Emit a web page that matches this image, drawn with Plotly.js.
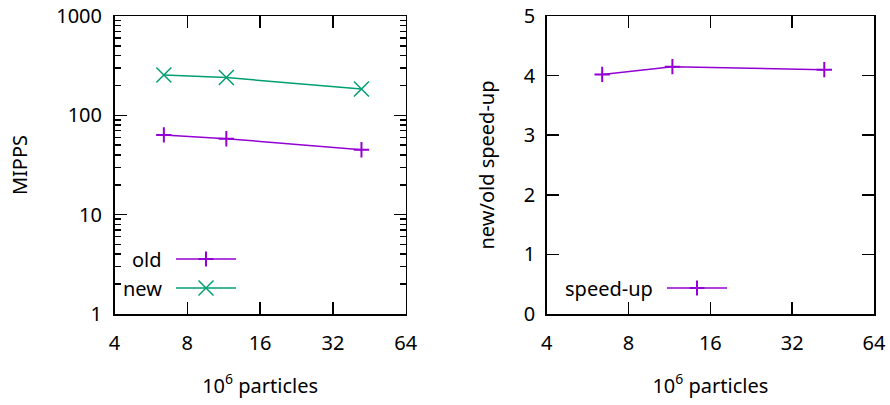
<!DOCTYPE html>
<html>
<head>
<meta charset="utf-8">
<script src="https://cdn.plot.ly/plotly-3.0.1.min.js"></script>
<style>html,body{margin:0;padding:0;background:#fff;}#chart{width:890px;height:405px;}</style>
</head>
<body>
<div id="chart"></div>
<script>
// Data
const particles = [6.4, 11.6, 42];           // 10^6 particles
const mippsOld = [63.5, 58.2, 45];           // MIPPS, old
const mippsNew = [255, 240, 184];            // MIPPS, new
const speedUp = [4.02, 4.15, 4.10];          // new/old speed-up
const xTicks = [4, 8, 16, 32, 64];
const yTicksLog = [1, 10, 100, 1000];
const yTicksLin = [0, 1, 2, 3, 4, 5];

const PURPLE = '#9400D3';
const GREEN = '#009E73';
const FONT = {family: 'Noto Sans, Open Sans, DejaVu Sans, sans-serif', size: 20, color: '#000'};

const minorLog = [];
for (let d = 1; d < 1000; d *= 10) for (let k = 2; k <= 9; k++) minorLog.push(k * d);

const traces = [
  {x: particles, y: mippsOld, xaxis: 'x', yaxis: 'y', mode: 'lines+markers', name: 'old',
   line: {color: PURPLE, width: 1.5}, marker: {symbol: 'cross-thin', size: 11, line: {color: PURPLE, width: 2}}},
  {x: particles, y: mippsNew, xaxis: 'x', yaxis: 'y', mode: 'lines+markers', name: 'new',
   line: {color: GREEN, width: 1.5}, marker: {symbol: 'x-thin', size: 15, line: {color: GREEN, width: 1.5}}},
  {x: particles, y: speedUp, xaxis: 'x2', yaxis: 'y2', mode: 'lines+markers', name: 'speed-up',
   line: {color: PURPLE, width: 1.5}, marker: {symbol: 'cross-thin', size: 11, line: {color: PURPLE, width: 2}}}
];

const W = 890, H = 405;
const px = v => v / W, py = v => 1 - v / H;

const xCommon = {
  type: 'log', range: [Math.log10(4), Math.log10(64)], tickvals: xTicks, ticktext: xTicks.map(String),
  ticks: 'inside', ticklen: 12, tickwidth: 1.5, tickcolor: '#000', showline: true, linecolor: '#000', linewidth: 1.5,
  mirror: 'ticks', showgrid: false, zeroline: false, tickfont: FONT, ticklabelstandoff: 10,
  title: {text: '10<sup>6</sup> particles', font: FONT, standoff: 24}
};

const layout = {
  width: W, height: H, margin: {l: 0, r: 0, t: 0, b: 0},
  paper_bgcolor: '#fff', plot_bgcolor: '#fff', showlegend: false, font: FONT,
  xaxis: Object.assign({}, xCommon, {domain: [px(114.5), px(405.7)], anchor: 'y'}),
  xaxis2: Object.assign({}, xCommon, {domain: [px(546.7), px(874)], anchor: 'y2'}),
  yaxis: {
    type: 'log', range: [0, 3], domain: [py(314), py(16)], anchor: 'x',
    tickvals: yTicksLog, ticktext: yTicksLog.map(String),
    ticks: 'inside', ticklen: 12, tickwidth: 1.5, tickcolor: '#000', showline: true, linecolor: '#000', linewidth: 1.5,
    mirror: 'ticks', showgrid: false, zeroline: false, tickfont: FONT, ticklabelstandoff: 7,
    minor: {tickvals: minorLog, ticks: 'inside', ticklen: 6, tickwidth: 1.5, tickcolor: '#000', showgrid: false},
    title: {text: 'MIPPS', font: FONT, standoff: 23}
  },
  yaxis2: {
    type: 'linear', range: [0, 5], domain: [py(314), py(16)], anchor: 'x2',
    tickvals: yTicksLin, ticktext: yTicksLin.map(String),
    ticks: 'inside', ticklen: 12, tickwidth: 1.5, tickcolor: '#000', showline: true, linecolor: '#000', linewidth: 1.5,
    mirror: 'ticks', showgrid: false, zeroline: false, tickfont: FONT, ticklabelstandoff: 6,
    title: {text: 'new/old speed-up', font: FONT, standoff: 23}
  },
  shapes: [],
  annotations: []
};

// Legend keys (gnuplot style: text then sample)
function key(label, color, textRight, x0, x1, y, sym) {
  layout.annotations.push({xref: 'paper', yref: 'paper', x: px(textRight), y: py(y), xanchor: 'right', yanchor: 'middle',
    text: label, showarrow: false, font: FONT});
  layout.shapes.push({type: 'line', xref: 'paper', yref: 'paper', x0: px(x0), x1: px(x1), y0: py(y), y1: py(y),
    line: {color: color, width: 1.5}});
  const cx = (x0 + x1) / 2, r = 7.5;
  if (sym === 'plus') {
    layout.shapes.push({type: 'line', xref: 'paper', yref: 'paper', x0: px(cx), x1: px(cx), y0: py(y - r), y1: py(y + r),
      line: {color: color, width: 2}});
    layout.shapes.push({type: 'line', xref: 'paper', yref: 'paper', x0: px(cx - r), x1: px(cx + r), y0: py(y), y1: py(y),
      line: {color: color, width: 2}});
  } else {
    layout.shapes.push({type: 'line', xref: 'paper', yref: 'paper', x0: px(cx - r), x1: px(cx + r), y0: py(y - r), y1: py(y + r),
      line: {color: color, width: 1.5}});
    layout.shapes.push({type: 'line', xref: 'paper', yref: 'paper', x0: px(cx - r), x1: px(cx + r), y0: py(y + r), y1: py(y - r),
      line: {color: color, width: 1.5}});
  }
}
key('old', PURPLE, 164, 176, 236, 259, 'plus');
key('new', GREEN, 164, 176, 236, 288, 'x');
key('speed-up', PURPLE, 655, 667, 727, 288, 'plus');

Plotly.newPlot('chart', traces, layout, {staticPlot: true, displayModeBar: false});
</script>
</body>
</html>
